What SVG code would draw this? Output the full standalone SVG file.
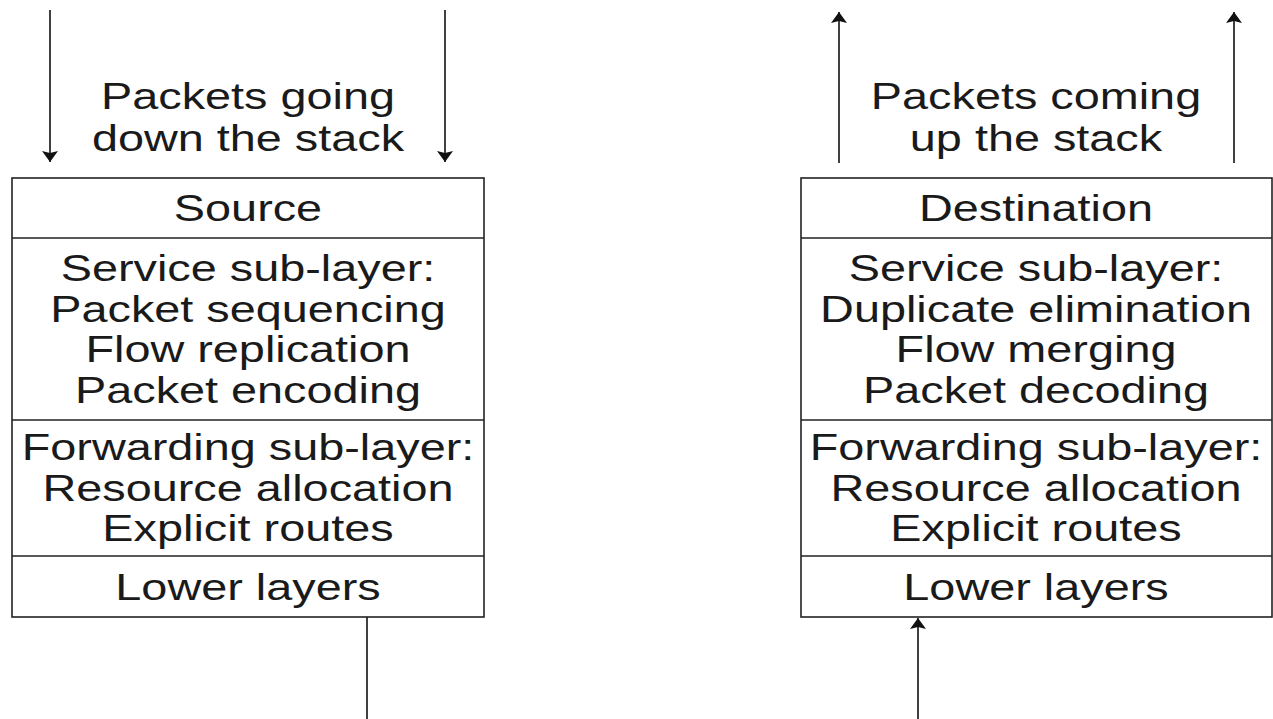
<svg xmlns="http://www.w3.org/2000/svg" width="1273" height="719" viewBox="0 0 1273 719">
  <style>
    .box { fill: #ffffff; stroke: #222222; stroke-width: 1.6; }
    .div { stroke: #222222; stroke-width: 1.6; }
    .conn { stroke: #111111; stroke-width: 1.6; fill: none; }
    .t { font-family: "Liberation Sans", Arial, sans-serif; font-size: 36px; text-anchor: middle; fill: #1a1a1a; }
  </style>
  <defs>
    <marker id="arrow" viewBox="0 0 11 16" markerWidth="11" markerHeight="16" refX="11" refY="8" orient="auto" markerUnits="userSpaceOnUse">
      <path d="M0,0 L11,8 L0,16 L2,8 z" fill="#111111"/>
    </marker>
  </defs>
  <rect width="1273" height="719" fill="#ffffff"/>

  <g id="connectors">
    <line class="conn" x1="50" y1="10" x2="50" y2="162" marker-end="url(#arrow)"/>
    <line class="conn" x1="445" y1="10" x2="445" y2="162" marker-end="url(#arrow)"/>
    <line class="conn" x1="839" y1="163" x2="839" y2="12" marker-end="url(#arrow)"/>
    <line class="conn" x1="1234" y1="163" x2="1234" y2="12" marker-end="url(#arrow)"/>
    <line class="conn" x1="367" y1="617" x2="367" y2="719"/>
    <line class="conn" x1="918" y1="719" x2="918" y2="618" marker-end="url(#arrow)"/>
  </g>

  <g id="label-down">
    <text class="t" transform="translate(248 109) scale(1.3 1)">Packets going</text>
    <text class="t" transform="translate(248 151) scale(1.3 1)">down the stack</text>
  </g>
  <g id="label-up">
    <text class="t" transform="translate(1036 109) scale(1.3 1)">Packets coming</text>
    <text class="t" transform="translate(1036 151) scale(1.3 1)">up the stack</text>
  </g>

  <g id="source-stack">
    <rect class="box" x="12" y="178" width="472" height="439"/>
    <line class="div" x1="12" y1="238" x2="484" y2="238"/>
    <line class="div" x1="12" y1="420" x2="484" y2="420"/>
    <line class="div" x1="12" y1="556" x2="484" y2="556"/>
    <text class="t" transform="translate(248 221) scale(1.3 1)">Source</text>
    <text class="t" transform="translate(248 281) scale(1.3 1)">Service sub-layer:</text>
    <text class="t" transform="translate(248 321.5) scale(1.3 1)">Packet sequencing</text>
    <text class="t" transform="translate(248 362) scale(1.3 1)">Flow replication</text>
    <text class="t" transform="translate(248 402.5) scale(1.3 1)">Packet encoding</text>
    <text class="t" transform="translate(248 460) scale(1.3 1)">Forwarding sub-layer:</text>
    <text class="t" transform="translate(248 500.5) scale(1.3 1)">Resource allocation</text>
    <text class="t" transform="translate(248 541) scale(1.3 1)">Explicit routes</text>
    <text class="t" transform="translate(248 599.5) scale(1.3 1)">Lower layers</text>
  </g>

  <g id="destination-stack">
    <rect class="box" x="801" y="178" width="471" height="439"/>
    <line class="div" x1="801" y1="238" x2="1272" y2="238"/>
    <line class="div" x1="801" y1="420" x2="1272" y2="420"/>
    <line class="div" x1="801" y1="556" x2="1272" y2="556"/>
    <text class="t" transform="translate(1036 221) scale(1.3 1)">Destination</text>
    <text class="t" transform="translate(1036 281) scale(1.3 1)">Service sub-layer:</text>
    <text class="t" transform="translate(1036 321.5) scale(1.3 1)">Duplicate elimination</text>
    <text class="t" transform="translate(1036 362) scale(1.3 1)">Flow merging</text>
    <text class="t" transform="translate(1036 402.5) scale(1.3 1)">Packet decoding</text>
    <text class="t" transform="translate(1036 460) scale(1.3 1)">Forwarding sub-layer:</text>
    <text class="t" transform="translate(1036 500.5) scale(1.3 1)">Resource allocation</text>
    <text class="t" transform="translate(1036 541) scale(1.3 1)">Explicit routes</text>
    <text class="t" transform="translate(1036 599.5) scale(1.3 1)">Lower layers</text>
  </g>
</svg>
